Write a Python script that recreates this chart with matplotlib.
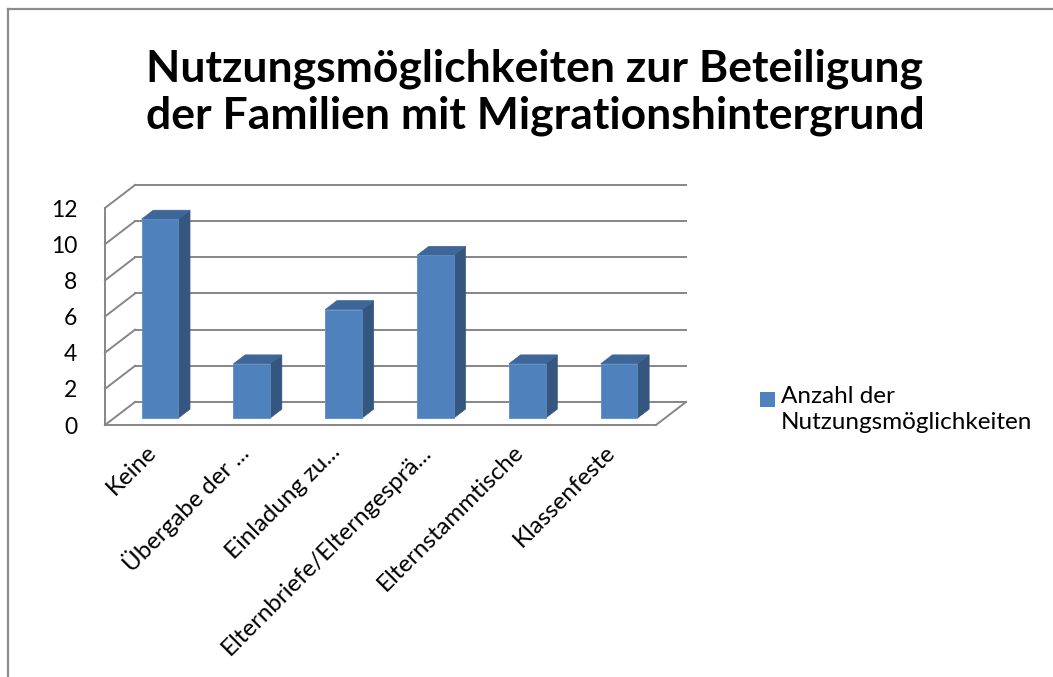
import numpy as np
import matplotlib
matplotlib.use("Agg")
import matplotlib.pyplot as plt
from matplotlib.patches import Polygon, Rectangle
from matplotlib.lines import Line2D
from matplotlib.transforms import ScaledTranslation

plt.rcParams['font.family'] = ['Lato', 'DejaVu Sans']

# data
categories = ['Keine', 'Übergabe der ...', 'Einladung zu...', 'Elternbriefe/Elterngesprä...',
              'Elternstammtische', 'Klassenfeste']
values = [11, 3, 6, 9, 3, 3]
series_name = 'Anzahl der\nNutzungsmöglichkeiten'
yticks = [0, 2, 4, 6, 8, 10, 12]
title = 'Nutzungsmöglichkeiten zur Beteiligung\nder Familien mit Migrationshintergrund'

front_col = '#4F81BD'
side_col = '#34567F'
top_col = '#3E6698'
grid_col = '#868686'

W, H = 1053, 677
fig = plt.figure(figsize=(W / 100, H / 100), dpi=100)

# chart border (left and top only, as in the picture)
fig.add_artist(Line2D([7.5 / W, 7.5 / W], [0, 1 - 8.5 / H], color='#8c8c8c', lw=1.6))
fig.add_artist(Line2D([7.5 / W, 1], [1 - 8.5 / H, 1 - 8.5 / H], color='#8c8c8c', lw=1.6))

# 3d depth offsets in data units
DX = 0.327
DY = 1.272
ymax = yticks[-1]

ax = fig.add_axes([105 / W, (H - 425) / H, 581 / W, 240 / H])
ax.set_xlim(-0.5, len(categories) - 0.5 + DX)
ax.set_ylim(0, ymax + DY)
for s in ax.spines.values():
    s.set_visible(False)

x = np.arange(len(categories))
x0, x1 = -0.5, len(categories) - 0.5

# back wall gridlines and left wall diagonals
for v in yticks:
    ax.plot([x0 + DX, x1 + DX], [v + DY, v + DY], color=grid_col, lw=1.4, clip_on=False, zorder=1)
    ax.plot([x0, x0 + DX], [v, v + DY], color=grid_col, lw=1.4, clip_on=False, zorder=1)
# front left edge and floor
ax.plot([x0, x0], [0, ymax], color=grid_col, lw=1.4, clip_on=False, zorder=1)
ax.plot([x0, x1], [0, 0], color=grid_col, lw=1.4, clip_on=False, zorder=1)
ax.plot([x1, x1 + DX], [0, DY], color=grid_col, lw=1.4, clip_on=False, zorder=1)

# bars: front face at depth d0, thickness dd
d0, dd = 0.3, 0.39
bw = 0.4
xs = x + d0 * DX
base = d0 * DY
bars = ax.bar(xs, values, width=bw, bottom=base, color=front_col, edgecolor='#5b8cc6',
              lw=0.6, zorder=3)
ox, oy = dd * DX, dd * DY
for xc, v in zip(xs, values):
    r = xc + bw / 2
    l = xc - bw / 2
    top = base + v
    ax.add_patch(Polygon([(r, base), (r + ox, base + oy), (r + ox, top + oy), (r, top)],
                         closed=True, facecolor=side_col, edgecolor=side_col, lw=0.5, zorder=2))
    ax.add_patch(Polygon([(l, top), (r, top), (r + ox, top + oy), (l + ox, top + oy)],
                         closed=True, facecolor=top_col, edgecolor=top_col, lw=0.5, zorder=2))

ax.set_yticks(yticks)
ax.set_yticklabels([str(v) for v in yticks], fontsize=16.5)
ax.tick_params(axis='y', length=0, pad=20)
ax.set_xticks(x)
ax.set_xticklabels(categories, fontsize=17.3, rotation=45, ha='right', rotation_mode='anchor',
                   va='center')
ax.tick_params(axis='x', length=0, pad=12)
shift = ScaledTranslation(2 / 100, -7 / 100, fig.dpi_scale_trans)
for lab in ax.get_xticklabels():
    lab.set_transform(lab.get_transform() + shift)

fig.text(535 / W, 1 - 92 / H, title, ha='center', va='center', fontsize=32,
         fontweight='bold', linespacing=1.2)

# legend: square aligned with the first line of the label
fig.add_artist(Rectangle((760 / W, 1 - 407 / H), 15 / W, 15 / H, facecolor=front_col,
                         edgecolor='none', transform=fig.transFigure))
fig.text(781 / W, 1 - 386 / H, series_name, ha='left', va='top', fontsize=17.5,
         linespacing=1.3)

fig.savefig('out.png', dpi=100)
